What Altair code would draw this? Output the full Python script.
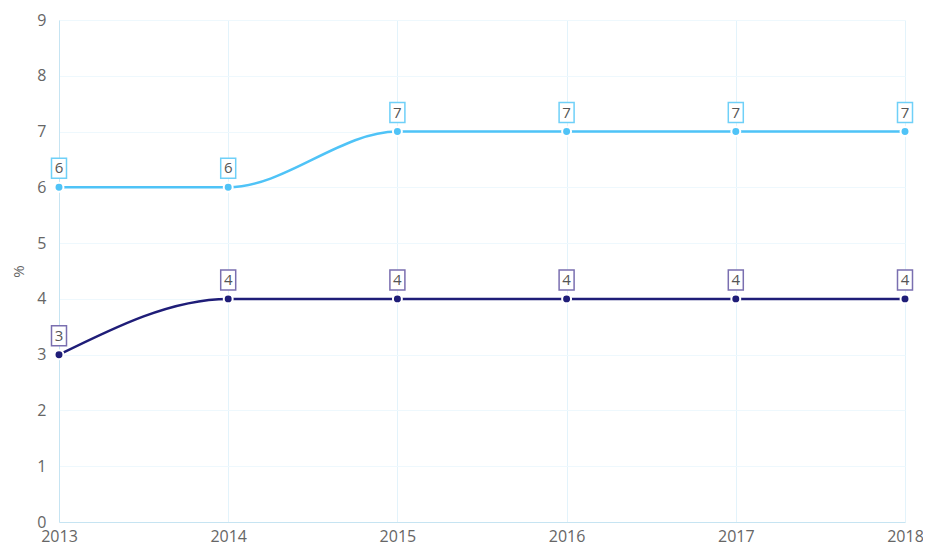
import altair as alt
import pandas as pd

years = [2013, 2014, 2015, 2016, 2017, 2018]
series_a = [6, 6, 7, 7, 7, 7]
series_b = [3, 4, 4, 4, 4, 4]
series_names = ["A", "B"]
colors = ["#4FC3F7", "#1F1D78"]
box_strokes = ["#6FD0F8", "#7A6FB0"]

rows = []
for name, vals in zip(series_names, [series_a, series_b]):
    for y, v in zip(years, vals):
        rows.append({"year": y, "value": v, "series": name})
df = pd.DataFrame(rows)

FONT = "Open Sans"

x = alt.X("year:Q", scale=alt.Scale(domain=[2013, 2018], nice=False, zero=False),
          axis=alt.Axis(values=years, format="d", title=None, labelFlush=False,
                        tickSize=0, labelPadding=6, labelFontSize=16, labelFont=FONT,
                        labelColor="#666666", domainColor="#C6E4F2", gridColor="#E3F3FB",
                        labelOverlap=False))
y = alt.Y("value:Q", scale=alt.Scale(domain=[0, 9], nice=False),
          axis=alt.Axis(values=list(range(10)), title="%", tickSize=0, labelPadding=13,
                        labelFontSize=16, labelFont=FONT, labelColor="#666666",
                        titleFont=FONT, titleFontSize=15, titleColor="#666666",
                        titleFontWeight="normal", titlePadding=10,
                        domainColor="#C6E4F2", gridColor="#EEF8FD"))
color = alt.Color("series:N", scale=alt.Scale(domain=series_names, range=colors), legend=None)

base = alt.Chart(df)

lines = base.mark_line(interpolate="monotone", strokeWidth=2.5).encode(x=x, y=y, color=color)
points = base.mark_point(filled=True, size=80, stroke="white", strokeWidth=2, opacity=1).encode(
    x=x, y=y, fill=alt.Fill("series:N", scale=alt.Scale(domain=series_names, range=colors), legend=None))
boxes = base.mark_point(shape="M-0.75,-1H0.75V1H-0.75Z", size=400, filled=False, fill="white",
                        fillOpacity=1, strokeWidth=1.5, yOffset=-19, opacity=1).encode(
    x=x, y=y,
    stroke=alt.Stroke("series:N", scale=alt.Scale(domain=series_names, range=box_strokes), legend=None))
texts = base.mark_text(font=FONT, fontSize=15, color="#555555", yOffset=-19, baseline="middle",
                       align="center").encode(x=x, y=y, text="value:Q")

chart = alt.layer(lines, points, boxes, texts).properties(
    width=846, height=502,
    autosize=alt.AutoSizeParams(type="none"),
    padding={"left": 51, "top": 12, "right": 18, "bottom": 26},
).configure_view(stroke=None)

chart.save("out.html", embed_options={"renderer": "svg", "actions": False})
